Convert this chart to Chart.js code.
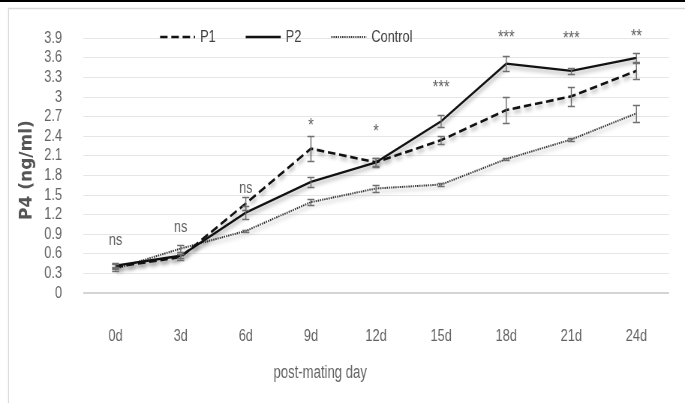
<!DOCTYPE html>
<html>
<head>
<meta charset="utf-8">
<script src="https://cdn.jsdelivr.net/npm/chart.js@4.4.0/dist/chart.umd.min.js"></script>
<style>
  html, body { margin: 0; padding: 0; background: #fff; }
  #grafico { display: block; }
</style>
</head>
<body>
<canvas id="grafico"></canvas>
<script>
// dias pós-acasalamento
const dias = ["0d", "3d", "6d", "9d", "12d", "15d", "18d", "21d", "24d"];

// P4 (ng/ml) médias
const p1 = [0.40, 0.55, 1.37, 2.21, 2.00, 2.34, 2.80, 3.01, 3.40];
const p2 = [0.42, 0.57, 1.23, 1.70, 2.00, 2.63, 3.51, 3.40, 3.60];
const controle = [0.37, 0.68, 0.95, 1.39, 1.60, 1.66, 2.05, 2.35, 2.75];

// erro padrão (+/-)
const p1Erro = [0.04, 0.04, 0.10, 0.19, 0.06, 0.06, 0.20, 0.15, 0.12];
const p2Erro = [0.04, 0.03, 0.10, 0.07, 0.07, 0.09, 0.11, 0.05, 0.07];
const controleErro = [0.03, 0.05, 0.02, 0.05, 0.05, 0.02, 0.02, 0.02, 0.13];

// significância e altura (em ng/ml) onde aparece
const signif = ["ns", "ns", "ns", "*", "*", "***", "***", "***", "**"];
const signifNivel = [0.81, 1.01, 1.61, 2.56, 2.47, 3.14, 3.91, 3.89, 3.92];

const yTicks = { min: 0, max: 3.9, passo: 0.3 };

// o original tem fonte estreita: desenha largo e comprime na horizontal
const SQ = 0.75;
const LARG = 685, ALT = 403;
const px = v => v / SQ;

const canvas = document.getElementById("grafico");
canvas.width = Math.round(LARG / SQ);
canvas.height = ALT;
canvas.style.width = LARG + "px";
canvas.style.height = ALT + "px";

const FONTE = '"Liberation Sans", Arial, sans-serif';
const CINZA = "#636363";

const erros = [p1Erro, p2Erro, controleErro];

const extras = {
  id: "extras",
  beforeDraw(chart) {
    const c = chart.ctx;
    c.save();
    c.fillStyle = "#fff";
    c.fillRect(0, 0, chart.width, chart.height);
    c.strokeStyle = "#d9d9d9";
    c.lineWidth = 1.3;
    c.beginPath();
    c.moveTo(px(8.5), chart.height);
    c.lineTo(px(8.5), 8.5);
    c.lineTo(chart.width, 8.5);
    c.stroke();
    c.fillStyle = "#000";
    c.fillRect(0, 0, chart.width, 2);
    c.restore();
  },
  beforeDatasetDraw(chart) {
    const c = chart.ctx;
    c.shadowColor = "rgba(0,0,0,0.35)";
    c.shadowBlur = 4;
    c.shadowOffsetX = 1.5;
    c.shadowOffsetY = 3;
  },
  afterDatasetDraw(chart) {
    const c = chart.ctx;
    c.shadowColor = "rgba(0,0,0,0)";
    c.shadowBlur = 0;
    c.shadowOffsetX = 0;
    c.shadowOffsetY = 0;
  },
  afterDatasetsDraw(chart) {
    const c = chart.ctx;
    const xs = chart.scales.x;
    const ys = chart.scales.y;
    c.save();

    // barras de erro
    c.strokeStyle = "#6f6f6f";
    c.lineWidth = 1.4;
    c.setLineDash([]);
    chart.data.datasets.forEach((ds, i) => {
      ds.data.forEach((v, j) => {
        const e = erros[i][j];
        const x = xs.getPixelForValue(j);
        const yt = Math.round(ys.getPixelForValue(v + e)) + 0.5;
        const yb = Math.round(ys.getPixelForValue(v - e)) + 0.5;
        c.beginPath();
        c.moveTo(x, yt); c.lineTo(x, yb);
        c.moveTo(x - px(3.5), yt); c.lineTo(x + px(3.5), yt);
        c.moveTo(x - px(3.5), yb); c.lineTo(x + px(3.5), yb);
        c.stroke();
      });
    });

    // rótulos de significância
    c.fillStyle = CINZA;
    c.textAlign = "center";
    c.textBaseline = "middle";
    signif.forEach((s, j) => {
      c.font = (s === "ns" ? "17px " : "19px ") + FONTE;
      c.fillText(s, xs.getPixelForValue(j), ys.getPixelForValue(signifNivel[j]));
    });

    // legenda
    let lx = px(160);
    const ly = 37;
    c.font = "17px " + FONTE;
    c.textAlign = "left";
    chart.data.datasets.forEach(ds => {
      c.strokeStyle = ds.borderColor;
      c.lineWidth = ds.borderWidth;
      c.setLineDash(ds.borderDash || []);
      c.beginPath();
      c.moveTo(lx, ly); c.lineTo(lx + px(35), ly);
      c.stroke();
      c.setLineDash([]);
      c.fillStyle = "#404040";
      c.fillText(ds.label, lx + px(40), ly);
      lx += px(40) + c.measureText(ds.label).width + px(30);
    });

    // títulos dos eixos
    c.fillStyle = CINZA;
    c.font = "17.5px " + FONTE;
    c.textAlign = "center";
    c.fillText("post-mating day", px(320), 373);

    c.save();
    c.translate(px(27), 170);
    c.scale(1 / SQ, 1);
    c.rotate(-Math.PI / 2);
    c.fillStyle = "#555";
    c.font = 'bold 17px "DejaVu Sans", sans-serif';
    c.fillText("P4 (ng/ml)", 0, 0);
    c.restore();

    c.restore();
  }
};

new Chart(canvas.getContext("2d"), {
  type: "line",
  data: {
    labels: dias,
    datasets: [
      { label: "P1", data: p1, borderColor: "#111", borderWidth: 2.6, borderDash: [10, 5] },
      { label: "P2", data: p2, borderColor: "#111", borderWidth: 2.3 },
      { label: "Control", data: controle, borderColor: "#333", borderWidth: 2, borderDash: [1.6, 1.3] }
    ]
  },
  options: {
    responsive: false,
    animation: false,
    devicePixelRatio: 1,
    layout: { padding: { top: 23, right: px(16), left: 0, bottom: 0 } },
    elements: {
      point: { radius: 0 },
      line: { tension: 0, fill: false }
    },
    plugins: {
      legend: { display: false },
      tooltip: { enabled: false }
    },
    scales: {
      x: {
        offset: true,
        grid: { display: false },
        border: { display: false },
        ticks: { color: CINZA, font: { family: FONTE, size: 17 }, padding: 25, autoSkip: false, maxRotation: 0 },
        afterFit: s => { s.height = 110; }
      },
      y: {
        min: yTicks.min,
        max: yTicks.max,
        border: { display: false },
        grid: {
          drawTicks: false,
          color: ctx => ctx.tick && ctx.tick.value === 0 ? "#d4d4d4" : "#e6e6e6",
          lineWidth: ctx => ctx.tick && ctx.tick.value === 0 ? 2 : 1
        },
        ticks: {
          stepSize: yTicks.passo,
          autoSkip: false,
          color: CINZA,
          font: { family: FONTE, size: 17 },
          padding: px(21),
          callback: v => String(+v.toFixed(1))
        },
        afterFit: s => { s.width = px(83); }
      }
    }
  },
  plugins: [extras]
});
</script>
</body>
</html>
